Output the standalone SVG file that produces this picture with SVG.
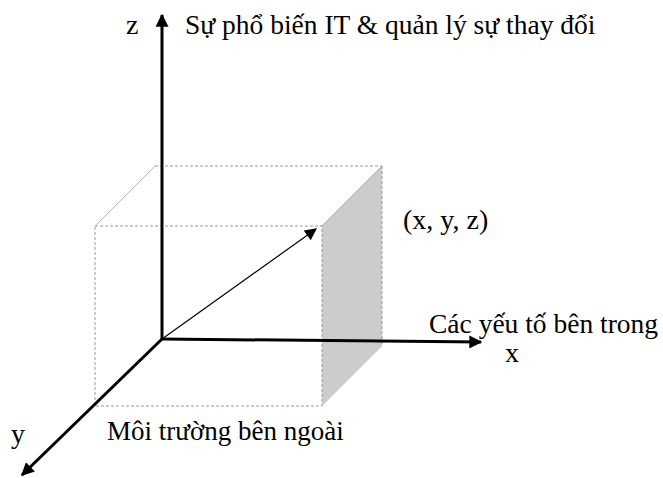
<svg xmlns="http://www.w3.org/2000/svg" width="663" height="478" viewBox="0 0 663 478">
<style>
text{font-family:"Liberation Serif","Times New Roman",serif;font-size:28px;fill:#000}
.dash{fill:none;stroke:#999;stroke-width:1;stroke-dasharray:3 2}
.axis{stroke:#000;stroke-width:3;fill:none}
</style>
<defs>
<marker id="ah" viewBox="0 0 10 10" refX="9" refY="5" markerWidth="16" markerHeight="13" markerUnits="userSpaceOnUse" orient="auto"><path d="M0,0L10,5L0,10z" fill="#000"/></marker>
<marker id="ahv" viewBox="0 0 10 10" refX="9" refY="5" markerWidth="15" markerHeight="12" markerUnits="userSpaceOnUse" orient="auto"><path d="M0,0L10,5L0,10z" fill="#000"/></marker>
</defs>
<rect width="663" height="478" fill="#fff"/>
<g id="box">
<polygon points="322,226 382,166 382,346 322,406" fill="#cccccc"/>
<rect x="95" y="226" width="227" height="180" class="dash"/>
<line x1="155" y1="166" x2="382" y2="166" class="dash"/>
<line x1="382" y1="166" x2="382" y2="346" class="dash"/>
<line x1="95" y1="226" x2="155" y2="166" stroke="#bbb" stroke-width="1"/>
<line x1="322" y1="226" x2="382" y2="166" stroke="#aaa" stroke-width="1"/>
<line x1="322" y1="406" x2="382" y2="346" stroke="#ddd" stroke-width="1"/>
</g>
<g id="connectors">
<line x1="162" y1="339" x2="162" y2="15" class="axis" marker-end="url(#ah)"/>
<line x1="162" y1="339" x2="481" y2="342" class="axis" marker-end="url(#ah)"/>
<line x1="162" y1="339" x2="22" y2="475" class="axis" marker-end="url(#ah)"/>
<line x1="162" y1="339" x2="316" y2="229" stroke="#000" stroke-width="1.2" marker-end="url(#ahv)"/>
</g>
<g id="labels">
<text x="126" y="34">z</text>
<text x="185" y="34" style="font-size:27.5px">Sự phổ biến IT &amp; quản lý sự thay đổi</text>
<text x="403" y="229">(x, y, z)</text>
<text x="429" y="333" style="font-size:27.5px">Các yếu tố bên trong</text>
<text x="505" y="362">x</text>
<text x="11" y="443">y</text>
<text x="107" y="440" style="font-size:27px">Môi trường bên ngoài</text>
</g>
</svg>
